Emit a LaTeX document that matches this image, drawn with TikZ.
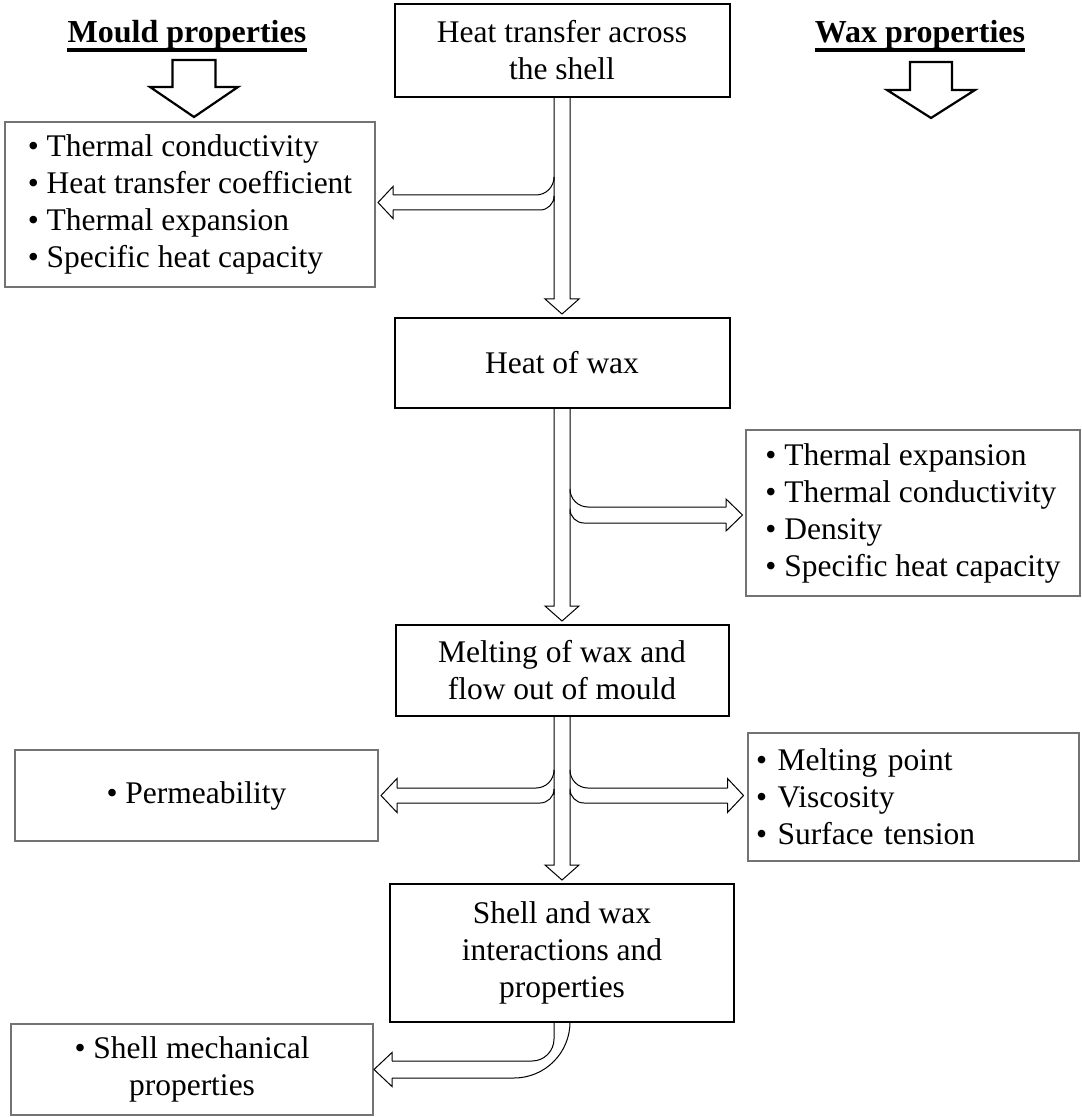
\documentclass[tikz,border=0pt]{standalone}
\usepackage{fontspec}
\setmainfont{Liberation Serif}
\usetikzlibrary{positioning, calc}

\tikzset{
  mainbox/.style={draw, line width=1pt, align=center, outer sep=0pt, inner sep=0pt},
  propbox/.style={draw=black!55, line width=0.6pt, outer sep=0pt, inner ysep=0pt},
  flowline/.style={line width=0.5pt, line join=miter},
  headarrow/.style={line width=1.1pt, line join=miter},
  heading/.style={font=\fontsize{16}{19}\selectfont\bfseries, inner sep=0pt}
}

\begin{document}
\begin{tikzpicture}[x=0.5pt, y=-0.5pt, font=\fontsize{15.75}{18.5}\selectfont]
        \useasboundingbox[fill=white] (0,0) rectangle (1081,1117);

        \node[mainbox, minimum width=167.5pt, minimum height=46.5pt] (top) at (562,50.5) {Heat transfer across\\the shell};
        \node[mainbox, minimum width=167.5pt, minimum height=45pt] (heat) [below=110.5pt of top] {Heat of wax};
        \node[mainbox, minimum width=166.5pt, minimum height=45.5pt] (melt) [below=108.5pt of heat] {Melting of wax and\\flow out of mould};
        \node[mainbox, minimum width=172pt, minimum height=69pt] (shell) [below=84pt of melt] {Shell and wax\\interactions and\\properties};

        \node[propbox, align=left, minimum width=185pt, minimum height=82.5pt] (mould) at (190,204.5)
            {\textbullet\ Thermal conductivity\\\textbullet\ Heat transfer coefficient\\\textbullet\ Thermal expansion\\\textbullet\ Specific heat capacity};
        \node[propbox, align=left, minimum width=167pt, minimum height=83pt] (wax) at (913,513)
            {\textbullet\ Thermal expansion\\\textbullet\ Thermal conductivity\\\textbullet\ Density\\\textbullet\ Specific heat capacity};
        \node[propbox, align=center, minimum width=181.5pt, minimum height=45.5pt] (perm) at (196.5,795.5) {\textbullet\ Permeability};
        \node[propbox, align=left, text width=157.5pt, inner xsep=4pt, minimum height=64pt] (meltp) at (913.5,797)
            {\textbullet\ Melting point\\\textbullet\ Viscosity\\\textbullet\ Surface tension};
        \node[propbox, align=center, minimum width=181pt, minimum height=45.5pt] (shellm) at (192,1069.5) {\textbullet\ Shell mechanical\\properties};

        \node[heading, anchor=base] (mh) at (187,43) {Mould properties};
        \node[heading, anchor=base] (wh) at (920,43) {Wax properties};
        \draw[line width=1.6pt] ($(mh.base west)+(0,7)$) -- ($(mh.base east)+(0,7)$);
        \draw[line width=1.6pt] ($(wh.base west)+(0,7)$) -- ($(wh.base east)+(0,7)$);

        % heading arrows
        \coordinate (mt) at ($(mould.north)+(4,-5)$);
        \coordinate (wt) at ($(wh.base)+(11,75)$);
        \draw[headarrow] ($(mt |- mh.base)+(-21.5,17)$) -- ($(mt)+(-21.5,-30)$) -- ++(-22.5,0) -- (mt)
            -- ($(mt)+(44,-30)$) -- ++(-22.5,0) -- ($(mt |- mh.base)+(21.5,17)$) -- cycle;
        \draw[headarrow] ($(wt |- wh.base)+(-21,19)$) -- ($(wt)+(-21,-28)$) -- ++(-23,0) -- (wt)
            -- ($(wt)+(44,-28)$) -- ++(-23,0) -- ($(wt |- wh.base)+(21,19)$) -- cycle;

        % stems
        \draw[flowline] ($(top.south)+(-8,0)$) -- ($(heat.north)+(-8,-19)$) -- ++(-9,0) -- ($(heat.north)+(0,-4)$)
            -- ++(17,-15) -- ++(-9,0) -- ($(top.south)+(8,0)$);
        \draw[flowline] ($(heat.south)+(-8,0)$) -- ($(melt.north)+(-8,-19)$) -- ++(-9,0) -- ($(melt.north)+(0,-4)$)
            -- ++(17,-15) -- ++(-9,0) -- ($(heat.south)+(8,0)$);
        \draw[flowline] ($(melt.south)+(-8,0)$) -- ($(shell.north)+(-8,-19)$) -- ++(-9,0) -- ($(shell.north)+(0,-4)$)
            -- ++(17,-15) -- ++(-9,0) -- ($(melt.south)+(8,0)$);

        % branches
        \coordinate (tl) at ($(top.south)+(-8,0)$);
        \coordinate (t1) at ($(mould.east)+(3,-2)$);
        \draw[flowline, rounded corners=9] ($(tl |- t1)+(0,-22)$) |- ($(t1)+(15,-7.5)$);
        \draw[flowline, rounded corners=7] ($(tl |- t1)+(0,-1)$) |- ($(t1)+(15,7.5)$);
        \draw[flowline] ($(t1)+(15,-7.5)$) -- ++(0,-8.5) -- (t1) -- ++(15,16) -- ++(0,-8.5);

        \coordinate (hr) at ($(heat.south)+(8,0)$);
        \coordinate (t2) at ($(wax.west)+(-3.5,2)$);
        \draw[flowline, rounded corners=9] ($(hr |- t2)+(0,-22)$) |- ($(t2)+(-16.5,-8)$);
        \draw[flowline, rounded corners=7] ($(hr |- t2)+(0,-1)$) |- ($(t2)+(-16.5,8)$);
        \draw[flowline] ($(t2)+(-16.5,-8)$) -- ++(0,-8) -- (t2) -- ++(-16.5,16) -- ++(0,-8);

        \coordinate (ml) at ($(melt.south)+(-8,0)$);
        \coordinate (t3) at ($(perm.east)+(3,0)$);
        \draw[flowline, rounded corners=9] ($(ml |- t3)+(0,-22)$) |- ($(t3)+(16,-7.5)$);
        \draw[flowline, rounded corners=7] ($(ml |- t3)+(0,-1)$) |- ($(t3)+(16,7.5)$);
        \draw[flowline] ($(t3)+(16,-7.5)$) -- ++(0,-9.5) -- (t3) -- ++(16,17) -- ++(0,-9.5);

        \coordinate (mr) at ($(melt.south)+(8,0)$);
        \coordinate (t4) at ($(meltp.west)+(-4.5,-1.5)$);
        \draw[flowline, rounded corners=9] ($(mr |- t4)+(0,-22)$) |- ($(t4)+(-16,-7.5)$);
        \draw[flowline, rounded corners=7] ($(mr |- t4)+(0,-1)$) |- ($(t4)+(-16,7.5)$);
        \draw[flowline] ($(t4)+(-16,-7.5)$) -- ++(0,-9.5) -- (t4) -- ++(-16,17) -- ++(0,-9.5);

        \coordinate (t5) at ($(shellm.east)+(1,0)$);
        \draw[flowline, rounded corners=11] ($(shell.south)+(-8,0)$) |- ($(t5)+(18,-8.5)$);
        \draw[flowline, rounded corners=28] ($(shell.south)+(8,0)$) |- ($(t5)+(18,8.5)$);
        \draw[flowline] ($(t5)+(18,-8.5)$) -- ++(0,-8.5) -- (t5) -- ++(18,17) -- ++(0,-8.5);
\end{tikzpicture}
\end{document}
